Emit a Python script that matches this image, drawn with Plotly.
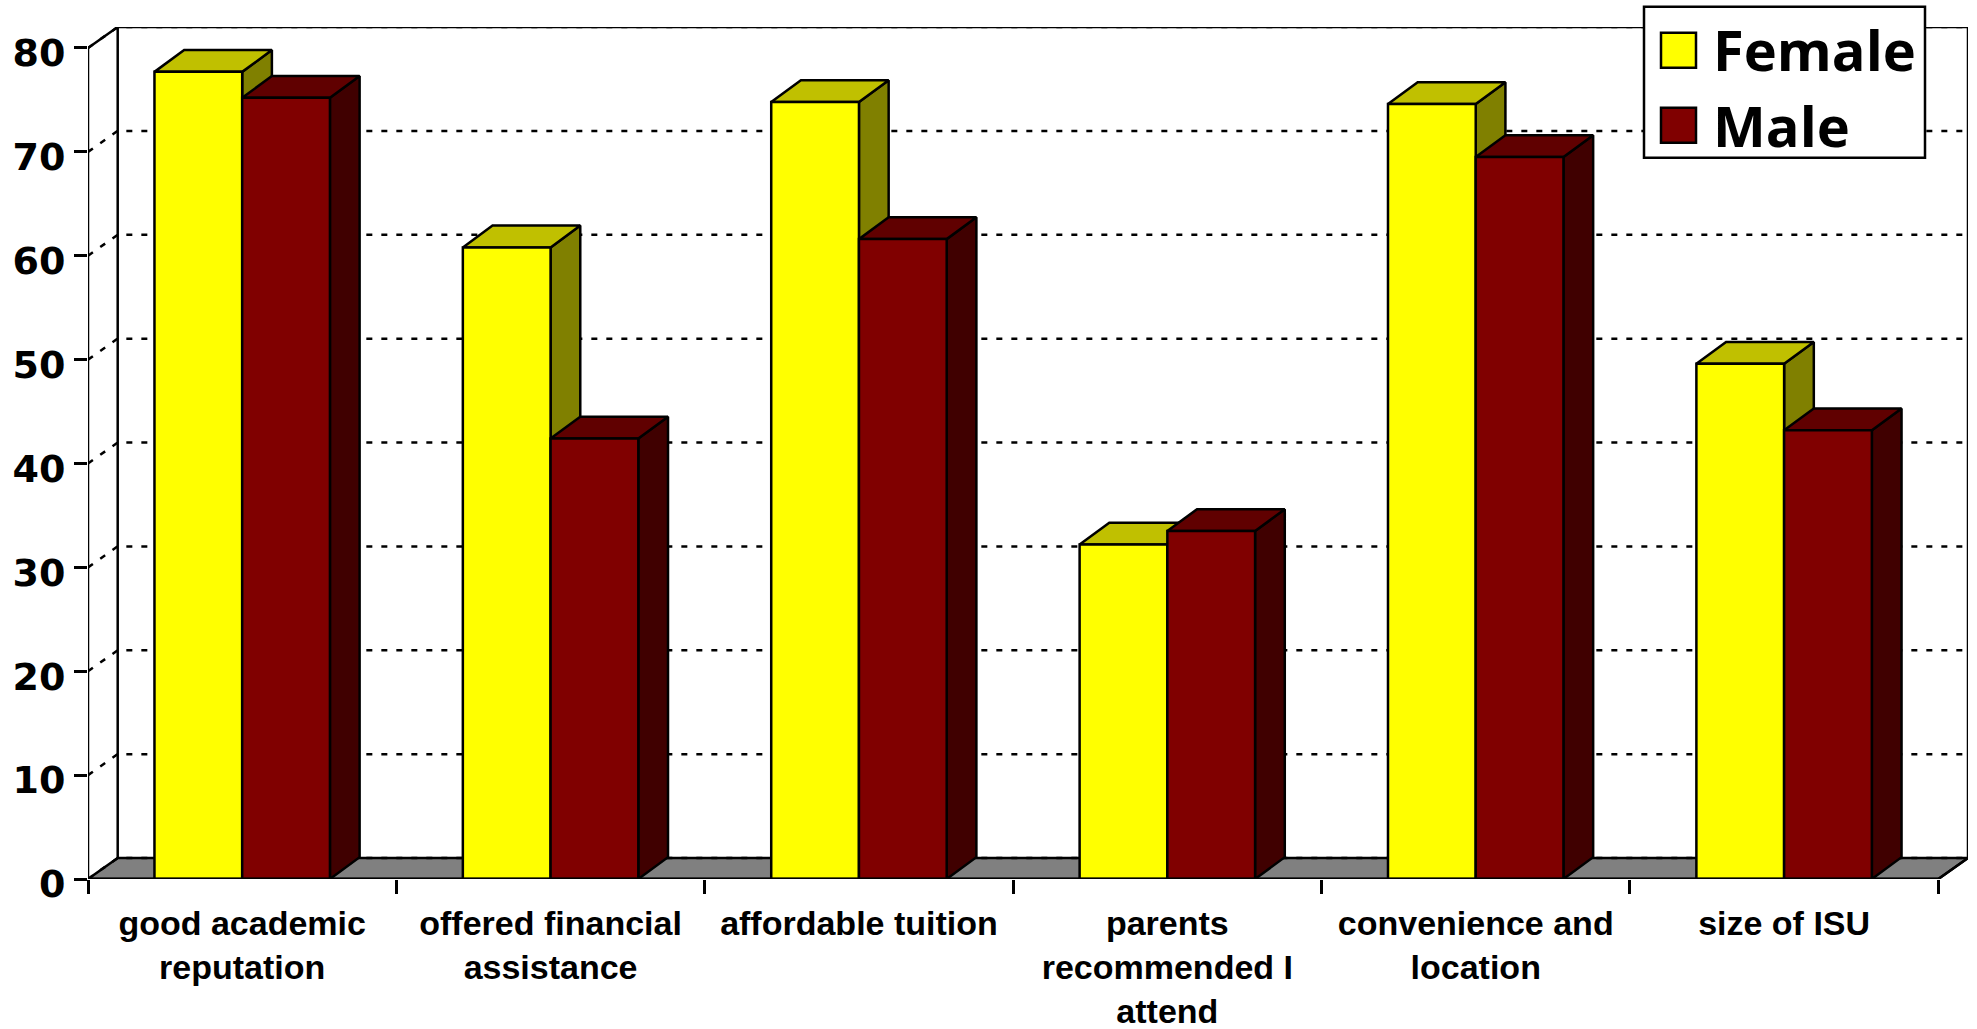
import plotly.graph_objects as go

categories = ["good academic<br>reputation", "offered financial<br>assistance", "affordable tuition",
              "parents<br>recommended I<br>attend", "convenience and<br>location", "size of ISU"]
female = [77.7, 60.8, 74.8, 32.2, 74.6, 49.6]
male = [75.2, 42.4, 61.6, 33.5, 69.5, 43.2]
y_ticks = [0, 10, 20, 30, 40, 50, 60, 70, 80]

BAR_W = 0.2845
DX = 0.0963   # depth of the pseudo-3D view in category units
DY = 2.1      # depth of the pseudo-3D view in value units
WALL_DY = 2.02
N = len(categories)
YMAX = y_ticks[-1]

W, H = 1977, 1029
L, R, T, B = 88, 1968, 27.3, 879.3

fig = go.Figure()


def poly(xs, ys, fill, width=2.5, group=None):
    fig.add_trace(go.Scatter(x=xs, y=ys, mode="lines", fill="toself", fillcolor=fill,
                             line=dict(color="black", width=width), showlegend=False,
                             cliponaxis=False, hoverinfo="skip", legendgroup=group))


def line(xs, ys, width=2.5, dash=None):
    fig.add_trace(go.Scatter(x=xs, y=ys, mode="lines", showlegend=False, cliponaxis=False,
                             line=dict(color="black", width=width, dash=dash), hoverinfo="skip"))


# floor
poly([0, DX, N + DX, N, 0], [0, WALL_DY, WALL_DY, 0, 0], "#808080")
# dotted grid on wall
gx, gy = [], []
for v in y_ticks:
    gx += [0, DX, N + DX, None]
    gy += [v, v + WALL_DY, v + WALL_DY, None]
line(gx, gy, width=2.5, dash="6px,9px")
# frame
line([0, 0], [0, YMAX])
line([0, DX, DX], [YMAX, YMAX + WALL_DY, WALL_DY])
line([DX, N + DX, N + DX, N], [YMAX + WALL_DY, YMAX + WALL_DY, WALL_DY, 0])


def bar(x0, v, front, top, side, group):
    x1 = x0 + BAR_W
    poly([x1, x1 + DX, x1 + DX, x1, x1], [0, DY, v + DY, v, 0], side, group=group)
    poly([x0, x0 + DX, x1 + DX, x1, x0], [v, v + DY, v + DY, v, v], top, group=group)
    poly([x0, x1, x1, x0, x0], [0, 0, v, v, 0], front, group=group)


for i in range(N):
    c = i + 0.5
    bar(c - BAR_W, female[i], "#FFFF00", "#C0C000", "#808000", "Female")
    bar(c, male[i], "#800000", "#600000", "#400000", "Male")

line([0, N], [0, 0], 3)

# legend entries
for name, col in (("Female", "#FFFF00"), ("Male", "#800000")):
    fig.add_trace(go.Scatter(x=[None], y=[None], mode="markers", name=name, legendgroup=name,
                             marker=dict(symbol="square", size=16, color=col, line=dict(width=0))))


def px(x):
    return (x - L) / (R - L)


def py(y):
    return (B - y) / (B - T)


shapes = [
    dict(type="rect", xref="paper", yref="paper", x0=px(1644), x1=px(1925), y0=py(158), y1=py(7),
         fillcolor="white", line=dict(color="black", width=2.5), layer="above"),
    dict(type="rect", xref="paper", yref="paper", x0=px(1661), x1=px(1696), y0=py(68), y1=py(33),
         fillcolor="#FFFF00", line=dict(color="black", width=2.5), layer="above"),
    dict(type="rect", xref="paper", yref="paper", x0=px(1661), x1=px(1696), y0=py(143), y1=py(108),
         fillcolor="#800000", line=dict(color="black", width=2.5), layer="above"),
]

fig.update_layout(
    width=W, height=H, autosize=False,
    margin=dict(l=L, r=W - R, t=T, b=H - B, pad=0, autoexpand=False),
    paper_bgcolor="white", plot_bgcolor="white",
    shapes=shapes,
    legend=dict(x=px(1644), y=py(7), xanchor="left", yanchor="top",
                bgcolor="rgba(0,0,0,0)", borderwidth=0,
                font=dict(family="Open Sans", size=56, color="black", weight="bold"),
                itemwidth=59, tracegroupgap=0, traceorder="normal"),
    xaxis=dict(range=[0, N + DX], showgrid=False, zeroline=False, showline=False,
               tickmode="array", tickvals=[i + 0.5 for i in range(N)], ticktext=categories,
               ticks="", ticklabelstandoff=21,
               tickfont=dict(family="Liberation Sans", size=34, color="black", weight="bold"),
               minor=dict(tickmode="array", tickvals=list(range(N + 1)), ticks="outside",
                          ticklen=14, tickwidth=2.5, tickcolor="black", showgrid=False)),
    yaxis=dict(range=[0, YMAX + WALL_DY], showgrid=False, zeroline=False, showline=False,
               tickmode="array", tickvals=y_ticks, ticks="outside", ticklen=13, tickwidth=2.5,
               tickcolor="black", ticklabelstandoff=1, ticklabelshift=5,
               tickfont=dict(family="DejaVu Sans", size=38, color="black", weight="bold")),
)

fig.write_html("out.html", config=dict(displayModeBar=False),
               post_script="document.body.style.margin='0';document.body.style.overflow='hidden';")
